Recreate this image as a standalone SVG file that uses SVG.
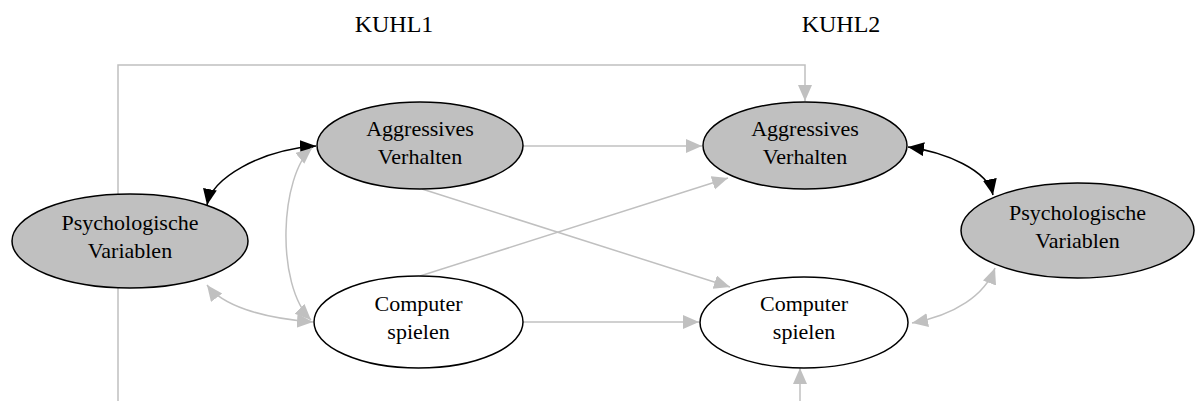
<svg xmlns="http://www.w3.org/2000/svg" width="1195" height="401" viewBox="0 0 1195 401">
  <style>
    .node ellipse { stroke: #000; stroke-width: 1.5; }
    .latent ellipse { fill: #c0c0c0; }
    .observed ellipse { fill: #fff; }
    text { font-family: "Liberation Serif", "Times New Roman", serif; fill: #000; text-anchor: middle; }
    .lbl { font-size: 22px; }
    .wave { font-size: 24px; }
    .edge { fill: none; stroke-width: 1.5; }
    .grey { stroke: #c0c0c0; }
    .black { stroke: #000; }
  </style>
  <defs>
    <marker id="arrGrey" markerUnits="userSpaceOnUse" markerWidth="17" markerHeight="15" refX="16" refY="7" orient="auto-start-reverse" viewBox="0 0 17 15">
      <path d="M0,0 L16,7 L0,14 z" fill="#c0c0c0"/>
    </marker>
    <marker id="arrBlack" markerUnits="userSpaceOnUse" markerWidth="17" markerHeight="15" refX="16" refY="7" orient="auto-start-reverse" viewBox="0 0 17 15">
      <path d="M0,0 L16,7 L0,14 z" fill="#000"/>
    </marker>
  </defs>

  <!-- wave headings -->
  <text class="wave" x="394" y="32">KUHL1</text>
  <text class="wave" x="841" y="32">KUHL2</text>

  <!-- connectors -->
  <g id="edges">
    <path class="edge grey" d="M118,401 L118,65 L805,65 L805,101" marker-end="url(#arrGrey)"/>
    <path class="edge grey" d="M800,401 L800,368" marker-end="url(#arrGrey)"/>
    <path class="edge grey" d="M523,146 L702,146" marker-end="url(#arrGrey)"/>
    <path class="edge grey" d="M523,322 L699,322" marker-end="url(#arrGrey)"/>
    <path class="edge grey" d="M422,189 L730,287" marker-end="url(#arrGrey)"/>
    <path class="edge grey" d="M420,276 L728,178" marker-end="url(#arrGrey)"/>
    <path class="edge black" d="M207,205 C212,178 260,150 316,146" marker-start="url(#arrBlack)" marker-end="url(#arrBlack)"/>
    <path class="edge grey" d="M207,285 C222,305 260,318 313,322" marker-start="url(#arrGrey)" marker-end="url(#arrGrey)"/>
    <path class="edge grey" d="M312,148 C280,175 275,285 311,320" marker-start="url(#arrGrey)" marker-end="url(#arrGrey)"/>
    <path class="edge black" d="M908,147 C945,152 988,170 993,195" marker-start="url(#arrBlack)" marker-end="url(#arrBlack)"/>
    <path class="edge grey" d="M912,323 C955,315 985,295 995,268" marker-start="url(#arrGrey)" marker-end="url(#arrGrey)"/>
  </g>

  <!-- nodes -->
  <g id="psych1" class="node latent">
    <ellipse cx="130" cy="241" rx="118" ry="47"/>
    <text class="lbl" x="130" y="230">Psychologische</text>
    <text class="lbl" x="130" y="258">Variablen</text>
  </g>
  <g id="aggr1" class="node latent">
    <ellipse cx="420" cy="145.5" rx="103" ry="43.5"/>
    <text class="lbl" x="420" y="136">Aggressives</text>
    <text class="lbl" x="420" y="164">Verhalten</text>
  </g>
  <g id="comp1" class="node observed">
    <ellipse cx="418.5" cy="322" rx="104.5" ry="46"/>
    <text class="lbl" x="418.5" y="311">Computer</text>
    <text class="lbl" x="418.5" y="339">spielen</text>
  </g>
  <g id="aggr2" class="node latent">
    <ellipse cx="805" cy="145.5" rx="102" ry="43.5"/>
    <text class="lbl" x="805" y="136">Aggressives</text>
    <text class="lbl" x="805" y="164">Verhalten</text>
  </g>
  <g id="comp2" class="node observed">
    <ellipse cx="804" cy="322.5" rx="104" ry="45.5"/>
    <text class="lbl" x="804" y="311">Computer</text>
    <text class="lbl" x="804" y="339">spielen</text>
  </g>
  <g id="psych2" class="node latent">
    <ellipse cx="1077.5" cy="230.5" rx="116.5" ry="47.5"/>
    <text class="lbl" x="1077.5" y="220">Psychologische</text>
    <text class="lbl" x="1077.5" y="248">Variablen</text>
  </g>
</svg>
